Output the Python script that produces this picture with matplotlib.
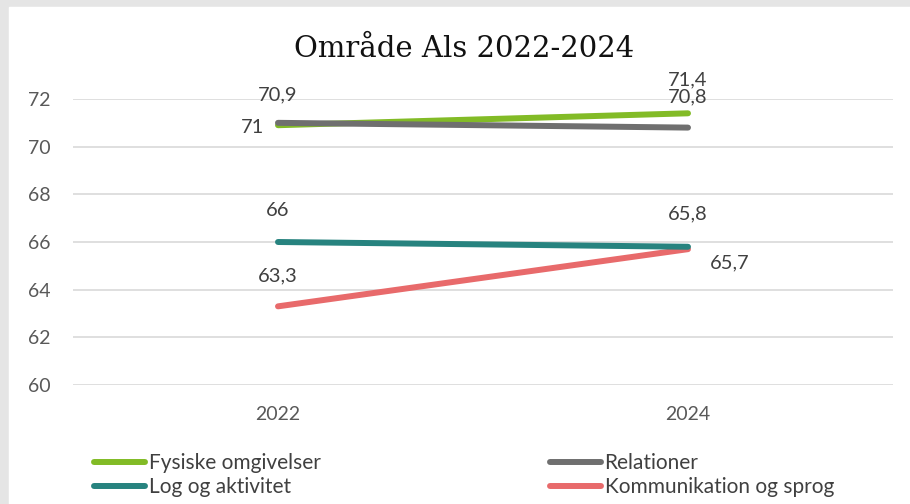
import matplotlib
matplotlib.use('Agg')
import matplotlib.pyplot as plt
from matplotlib.lines import Line2D
from matplotlib.patches import Rectangle

years = ['2022', '2024']
series_names = ['Fysiske omgivelser', 'Relationer', 'Log og aktivitet', 'Kommunikation og sprog']
fysiske = [70.9, 71.4]
relationer = [71.0, 70.8]
log_aktivitet = [66.0, 65.8]
kommunikation = [63.3, 65.7]
y_ticks = [60, 62, 64, 66, 68, 70, 72]

colors = {
    'Fysiske omgivelser': '#82bb26',
    'Relationer': '#6f6f6f',
    'Log og aktivitet': '#27837f',
    'Kommunikation og sprog': '#e86a6b',
}
values = {
    'Fysiske omgivelser': fysiske,
    'Relationer': relationer,
    'Log og aktivitet': log_aktivitet,
    'Kommunikation og sprog': kommunikation,
}
# data label offsets in points (dx, dy) for each point
label_offsets = {
    'Fysiske omgivelser': [(0, 22), (0, 24)],
    'Relationer': [(-18, -3), (0, 22)],
    'Log og aktivitet': [(0, 23), (0, 24)],
    'Kommunikation og sprog': [(0, 22), (30, -10)],
}

plt.rcParams['font.family'] = ['Lato', 'DejaVu Sans']

fig = plt.figure(figsize=(9.1, 5.04), dpi=100)
fig.patches.append(Rectangle((0, 0), 1, 1, transform=fig.transFigure, color='#e5e5e5', zorder=-10))
fig.patches.append(Rectangle((9 / 910, 0), 1, 1 - 7 / 504, transform=fig.transFigure,
                             color='white', zorder=-9))

ax = fig.add_axes([73 / 910, 1 - 385 / 504, 820 / 910, 286 / 504])
x = list(range(len(years)))

draw_order = ['Kommunikation og sprog', 'Log og aktivitet', 'Fysiske omgivelser', 'Relationer']
for name in draw_order:
    ax.plot(x, values[name], color=colors[name], lw=4.3, solid_capstyle='round', zorder=3)
    for i, v in enumerate(values[name]):
        dx, dy = label_offsets[name][i]
        ax.annotate(f'{v:g}'.replace('.', ','), (x[i], v), xytext=(dx, dy),
                    textcoords='offset points', ha='center', va='center',
                    fontsize=14.5, color='#404040', zorder=4)

ax.set_xlim(-0.5, 1.5)
ax.set_ylim(60, 72)
ax.set_xticks(x)
ax.set_xticklabels(years)
ax.set_yticks(y_ticks)
ax.tick_params(length=0, labelsize=14, colors='#595959')
ax.tick_params(axis='y', pad=16)
ax.tick_params(axis='x', pad=15)
ax.grid(axis='y', color='#d9d9d9', lw=1.2)
ax.set_axisbelow(True)
for s in ax.spines.values():
    s.set_visible(False)

fig.text(464 / 910, 1 - 49 / 504, 'Område Als 2022-2024', ha='center', va='center',
         fontsize=21, family=['DejaVu Serif'], color='#111111')

def handle(name):
    return Line2D([], [], color=colors[name], lw=4.3, solid_capstyle='round')

legend_kw = dict(loc='center left', frameon=False, fontsize=15, handlelength=2.45,
                 handletextpad=0.15, labelspacing=0.2, borderpad=0, labelcolor='#404040')
fig.legend([handle('Fysiske omgivelser'), handle('Log og aktivitet')],
           ['Fysiske omgivelser', 'Log og aktivitet'],
           bbox_to_anchor=(84 / 910, 1 - 475 / 504), **legend_kw)
fig.legend([handle('Relationer'), handle('Kommunikation og sprog')],
           ['Relationer', 'Kommunikation og sprog'],
           bbox_to_anchor=(540 / 910, 1 - 475 / 504), **legend_kw)

fig.savefig('out.png', dpi=100)
